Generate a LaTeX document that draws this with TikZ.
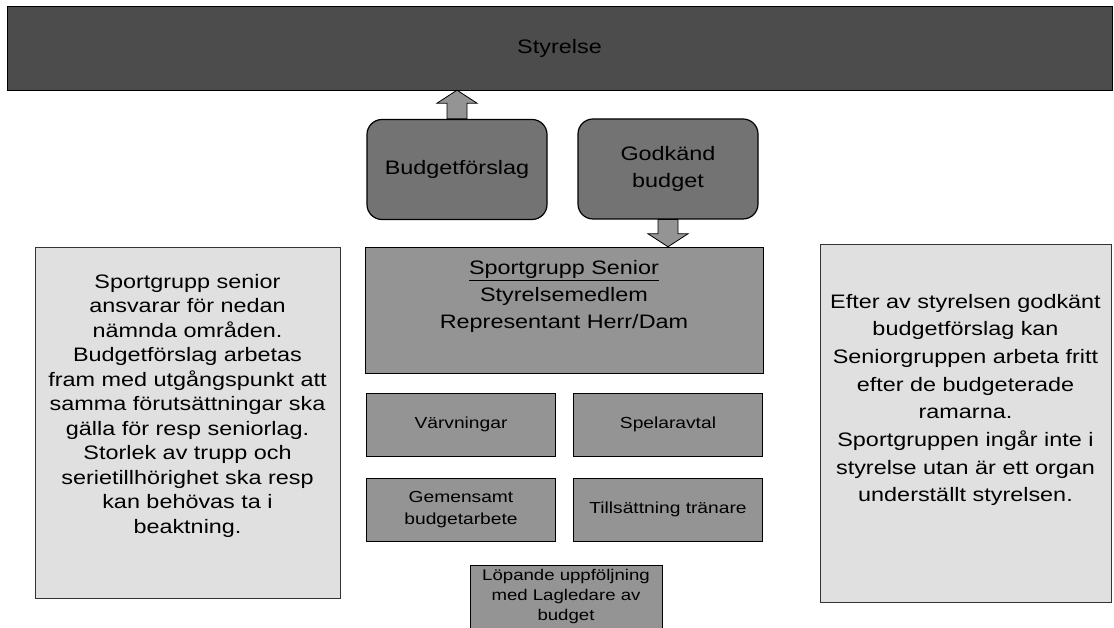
\documentclass[tikz,border=0pt]{standalone}
\usepackage{fontspec}
\setmainfont{Liberation Sans}[FakeStretch=1.2]
\usetikzlibrary{calc}

\definecolor{barfill}{gray}{0.3}
\definecolor{roundfill}{gray}{0.45}
\definecolor{boxfill}{gray}{0.58}
\definecolor{notefill}{gray}{0.88}

% block arrow from tail (#1) to tip (#2)
\newcommand{\blockarrow}[2]{%
  \coordinate (hb) at ($(#2)!13pt!(#1)$);
  \draw[arrowshape] ($(#1)!10pt!90:(#2)$) -- ($(hb)!10pt!90:(#2)$)
    -- ($(hb)!20pt!90:(#2)$) -- (#2) -- ($(hb)!20pt!-90:(#2)$)
    -- ($(hb)!10pt!-90:(#2)$) -- ($(#1)!10pt!-90:(#2)$) -- cycle;}

\begin{document}
\begin{tikzpicture}[x=1pt, y=1pt,
    bigtext/.style = {font=\fontsize{19.5}{26.7}\selectfont},
    bar/.style = {rectangle, draw=black, fill=barfill,
      minimum width=1105pt, minimum height=84pt, bigtext},
    roundbox/.style = {rectangle, rounded corners=15pt, draw=black, line width=1.2pt,
      fill=roundfill, align=center, minimum width=180pt, minimum height=100pt, bigtext},
    mainbox/.style = {rectangle, draw=black, fill=boxfill,
      minimum width=398pt, minimum height=126pt},
    smallbox/.style = {rectangle, draw=black, fill=boxfill, align=center,
      minimum width=189pt, minimum height=63pt, font=\fontsize{16}{22}\selectfont},
    notebox/.style = {rectangle, draw=black!80, fill=notefill},
    arrowshape/.style = {draw=black, fill=boxfill, line width=0.8pt}]
  \useasboundingbox (0,0) rectangle (1114,628);

  \node[bar] (styrelse) at (559.5,580) {Styrelse};

  \node[roundbox] (budget) at (457,458.5) {Budgetförslag};
  \node[roundbox] (godkand) at (668,459) {Godkänd\\budget};

  \node[mainbox] (senior) at (564,318) {};
  \node[bigtext, align=center] (seniortext) at ([yshift=13.5pt]senior.center)
    {\underline{Sportgrupp Senior}\\Styrelsemedlem\\Representant Herr/Dam};

  \node[smallbox] (varvning) at (461,203.5) {Värvningar};
  \node[smallbox] (spelavtal) at (668,203.5) {Spelaravtal};
  \node[smallbox] (gemensamt) at (461,118.5) {Gemensamt\\budgetarbete};
  \node[smallbox] (tranare) at (668,118.5) {Tillsättning tränare};
  \node[smallbox, minimum width=192pt, font=\fontsize{15.5}{20}\selectfont]
    (lopande) at (566,31.5) {Löpande uppföljning\\med Lagledare av\\budget};

  \node[notebox, minimum width=305pt, minimum height=351pt] (leftnote) at (187.5,205.5) {};
  \node[font=\fontsize{19.5}{24.5}\selectfont, align=center] (lefttext)
    at ([yshift=17pt]leftnote.center)
    {Sportgrupp senior\\ansvarar för nedan\\nämnda områden.\\Budgetförslag arbetas\\
     fram med utgångspunkt att\\samma förutsättningar ska\\gälla för resp seniorlag.\\
     Storlek av trupp och\\serietillhörighet ska resp\\kan behövas ta i\\beaktning.};

  \node[notebox, minimum width=291pt, minimum height=358pt] (rightnote) at (965.5,205) {};
  \node[font=\fontsize{19.5}{27.7}\selectfont, align=center] (righttext)
    at ([yshift=23pt]rightnote.center)
    {Efter av styrelsen godkänt\\budgetförslag kan\\Seniorgruppen arbeta fritt\\
     efter de budgeterade\\ramarna.\\Sportgruppen ingår inte i\\
     styrelse utan är ett organ\\underställt styrelsen.};

  % arrows
  \coordinate (uptip) at (budget.north |- styrelse.south);
  \blockarrow{budget.north}{uptip}
  \coordinate (downtip) at (godkand.south |- senior.north);
  \blockarrow{godkand.south}{downtip}
\end{tikzpicture}
\end{document}
